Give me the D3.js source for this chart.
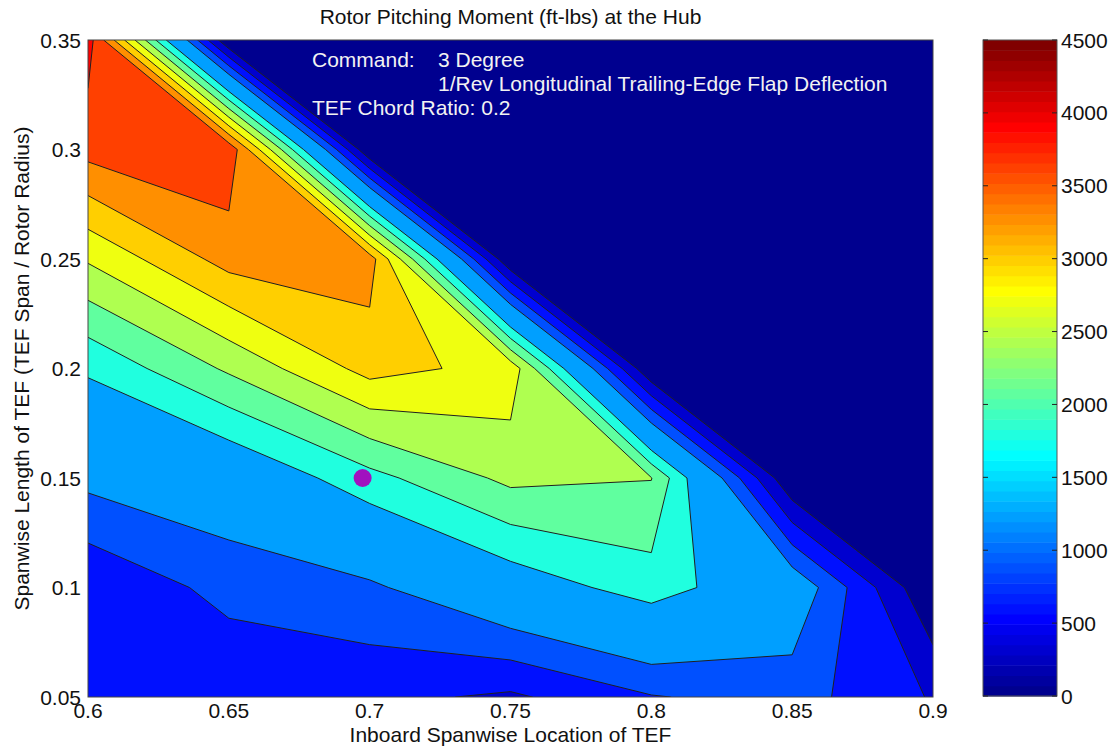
<!DOCTYPE html>
<html>
<head>
<meta charset="utf-8">
<script src="https://cdn.jsdelivr.net/npm/d3@7/dist/d3.min.js"></script>
<style>
body { margin: 0; background: #fff; }
text { font-family: "Liberation Sans", Arial, Helvetica, sans-serif; fill: #111; }
</style>
</head>
<body>
<div id="chart"></div>
<script>
// TEF grid: spanwise location (x) and span length (y)
var xGrid = [0.6, 0.65, 0.7, 0.75, 0.8, 0.85, 0.9];
var yGrid = [0.05, 0.1, 0.15, 0.2, 0.25, 0.3, 0.35];

// rotor pitching moment (ft-lbs), one row per span length, one column per location
var moment = [
    [700, 636, 680, 549, 880, 1027, 573],
    [634, 1003, 1140, 1587, 1955, 1476, 0],
    [1289, 1457, 2000, 2478, 2410, 0, 0],
    [1847, 2450, 3109, 2897, 0, 0, 0],
    [2735, 3420, 3450, 0, 0, 0, 0],
    [3710, 3830, 0, 0, 0, 0, 0],
    [4050, 0, 0, 0, 0, 0, 0]
];

var levels = [300, 600, 900, 1200, 1800, 2100, 2400, 2700, 3000, 3300, 3600, 3900];
var xTicks = [0.6, 0.65, 0.7, 0.75, 0.8, 0.85, 0.9];
var yTicks = [0.05, 0.1, 0.15, 0.2, 0.25, 0.3, 0.35];
var cbTicks = [0, 500, 1000, 1500, 2000, 2500, 3000, 3500, 4000, 4500];
var cRange = [0, 4500];
var marker = { x: 0.6975, y: 0.15 };

var W = 1118, H = 752;
var plot = { left: 88, right: 933, top: 40, bottom: 697 };
var cbar = { left: 983, right: 1057, top: 40, bottom: 696 };
var fontSize = "21px";

// matlab jet(64), row k = 1..64
function jetRow(k) {
    function u(i) { return i <= 16 ? i / 16 : (i <= 31 ? 1 : (48 - i) / 16); }
    function ch(i) { return (i >= 1 && i <= 47) ? u(i) : 0; }
    var r = ch(k - 24), g = ch(k - 8), b = ch(k + 8);
    return d3.rgb(Math.round(r * 255), Math.round(g * 255), Math.round(b * 255)).toString();
}
function jet(v) {
    var k = Math.floor((v - cRange[0]) / (cRange[1] - cRange[0]) * 64) + 1;
    k = Math.max(1, Math.min(64, k));
    return jetRow(k);
}

var svg = d3.select("#chart").append("svg")
    .attr("width", W)
    .attr("height", H);

var x = d3.scaleLinear().domain([0.6, 0.9]).range([plot.left, plot.right]);
var y = d3.scaleLinear().domain([0.05, 0.35]).range([plot.bottom, plot.top]);

svg.append("clipPath").attr("id", "plotClip")
    .append("rect")
    .attr("x", plot.left).attr("y", plot.top)
    .attr("width", plot.right - plot.left)
    .attr("height", plot.bottom - plot.top);

// filled contours
var nx = xGrid.length, ny = yGrid.length;
var values = [];
moment.forEach(function (row) { row.forEach(function (v) { values.push(v); }); });

var dx = xGrid[1] - xGrid[0], dy = yGrid[1] - yGrid[0];
var toScreen = d3.geoTransform({
    point: function (cx, cy) {
        // d3.contours puts grid value i at coordinate i + 0.5
        this.stream.point(x(xGrid[0] + (cx - 0.5) * dx), y(yGrid[0] + (cy - 0.5) * dy));
    }
});
var path = d3.geoPath(toScreen);

var bands = d3.contours().size([nx, ny]).thresholds(levels)(values);

var gPlot = svg.append("g").attr("clip-path", "url(#plotClip)");

gPlot.append("rect")
    .attr("x", plot.left).attr("y", plot.top)
    .attr("width", plot.right - plot.left)
    .attr("height", plot.bottom - plot.top)
    .attr("fill", jet(cRange[0]));

gPlot.selectAll("path.band")
    .data(bands)
    .enter().append("path")
    .attr("class", "band")
    .attr("d", path)
    .attr("fill", function (d) { return jet(d.value); })
    .attr("stroke", "#202020")
    .attr("stroke-width", 1)
    .attr("stroke-linejoin", "round");

// marker
gPlot.append("circle")
    .attr("cx", x(marker.x))
    .attr("cy", y(marker.y))
    .attr("r", 9)
    .attr("fill", "#a112bf");

// note text
var note = svg.append("g").style("font-size", fontSize);
note.append("text").attr("x", 312).attr("y", 67).style("fill", "#f2f2f2").text("Command:");
note.append("text").attr("x", 438).attr("y", 67).style("fill", "#f2f2f2").text("3 Degree");
note.append("text").attr("x", 438).attr("y", 91).style("fill", "#f2f2f2").text("1/Rev Longitudinal Trailing-Edge Flap Deflection");
note.append("text").attr("x", 312).attr("y", 115).style("fill", "#f2f2f2").text("TEF Chord Ratio: 0.2");

// axes frame
svg.append("rect")
    .attr("x", plot.left).attr("y", plot.top)
    .attr("width", plot.right - plot.left)
    .attr("height", plot.bottom - plot.top)
    .attr("fill", "none")
    .attr("stroke", "#444")
    .attr("stroke-width", 1);

svg.append("g").selectAll("text")
    .data(xTicks).enter().append("text")
    .attr("x", function (d) { return x(d); })
    .attr("y", plot.bottom + 21)
    .attr("text-anchor", "middle")
    .style("font-size", fontSize)
    .text(function (d) { return d; });

svg.append("g").selectAll("text")
    .data(yTicks).enter().append("text")
    .attr("x", plot.left - 7)
    .attr("y", function (d) { return y(d) + 7.5; })
    .attr("text-anchor", "end")
    .style("font-size", fontSize)
    .text(function (d) { return d; });

svg.append("text")
    .attr("x", (plot.left + plot.right) / 2)
    .attr("y", 24)
    .attr("text-anchor", "middle")
    .style("font-size", fontSize)
    .text("Rotor Pitching Moment (ft-lbs) at the Hub");

svg.append("text")
    .attr("x", (plot.left + plot.right) / 2)
    .attr("y", 742)
    .attr("text-anchor", "middle")
    .style("font-size", fontSize)
    .text("Inboard Spanwise Location of TEF");

svg.append("text")
    .attr("transform", "translate(29," + ((plot.top + plot.bottom) / 2) + ") rotate(-90)")
    .attr("text-anchor", "middle")
    .style("font-size", fontSize)
    .text("Spanwise Length of TEF (TEF Span / Rotor Radius)");

// colorbar
var c = d3.scaleLinear().domain(cRange).range([cbar.bottom, cbar.top]);
var step = (cRange[1] - cRange[0]) / 64;
var gBar = svg.append("g");
gBar.selectAll("rect")
    .data(d3.range(64)).enter().append("rect")
    .attr("x", cbar.left)
    .attr("y", function (k) { return c(cRange[0] + (k + 1) * step); })
    .attr("width", cbar.right - cbar.left)
    .attr("height", function (k) { return c(cRange[0] + k * step) - c(cRange[0] + (k + 1) * step) + 0.5; })
    .attr("fill", function (k) { return jetRow(k + 1); });

gBar.append("rect")
    .attr("x", cbar.left).attr("y", cbar.top)
    .attr("width", cbar.right - cbar.left)
    .attr("height", cbar.bottom - cbar.top)
    .attr("fill", "none")
    .attr("stroke", "#555")
    .attr("stroke-width", 1);

var cbTick = gBar.selectAll("g.cbtick")
    .data(cbTicks).enter().append("g")
    .attr("class", "cbtick");
cbTick.append("line")
    .attr("x1", cbar.left).attr("x2", cbar.left + 5)
    .attr("y1", function (d) { return c(d); }).attr("y2", function (d) { return c(d); })
    .attr("stroke", "#222");
cbTick.append("line")
    .attr("x1", cbar.right - 5).attr("x2", cbar.right)
    .attr("y1", function (d) { return c(d); }).attr("y2", function (d) { return c(d); })
    .attr("stroke", "#222");
cbTick.append("text")
    .attr("x", cbar.right + 4)
    .attr("y", function (d) { return c(d) + 7.5; })
    .style("font-size", fontSize)
    .text(function (d) { return d; });
</script>
</body>
</html>
